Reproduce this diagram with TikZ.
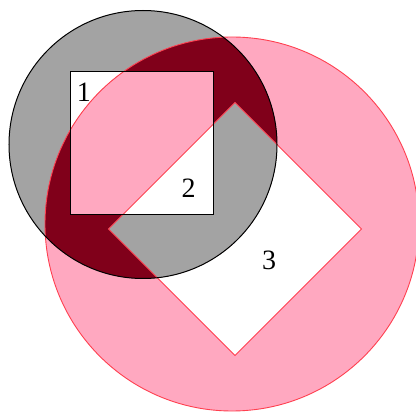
\documentclass[tikz,border=0pt]{standalone}
\usepackage{fontspec}
\setmainfont{Liberation Serif}
\definecolor{pinkfill}{HTML}{FFA8C0}
\definecolor{grayfill}{HTML}{A3A3A3}
\definecolor{darkfill}{HTML}{80001A}
\definecolor{redline}{HTML}{FF4050}
\tikzset{
  lbl/.style={font=\fontsize{28}{30}\selectfont, anchor=base, inner sep=0pt},
  redout/.style={draw=redline, line width=0.9pt},
  blackout/.style={draw=black, line width=1pt}
}
\newcommand{\graycirc}{(143,144.5) circle[radius=134]}
\newcommand{\pinkcirc}{(232,224) circle[radius=187]}
\newcommand{\sqpath}{(70,72) rectangle (213,215)}
\newcommand{\dmpath}{(235,102.5) -- (361.5,229) -- (235,355.5) -- (108.5,229) -- cycle}
\begin{document}
\begin{tikzpicture}[x=1pt,y=-1pt]
\useasboundingbox (0,0) rectangle (416,412);
\fill[white] (0,0) rectangle (416,412);
% pink path with diamond hole
\fill[pinkfill, even odd rule] \pinkcirc \dmpath;
% gray path with square hole
\fill[grayfill, even odd rule] \graycirc \sqpath;
% overlap
\begin{scope}
  \clip \pinkcirc;
  \clip \graycirc;
  \fill[darkfill] (0,0) rectangle (416,412);
  \fill[pinkfill] \sqpath;
  \fill[grayfill] \dmpath;
  \clip \dmpath;
  \fill[white] \sqpath;
\end{scope}
% outlines
\path[redout] \pinkcirc;
\path[redout] \dmpath;
\path[blackout] \graycirc;
\path[blackout] \sqpath;
% labels
\node[lbl] (l1) at (84,101.5) {1};
\node[lbl] (l2) at (188.5,198) {2};
\node[lbl] (l3) at (269,269.5) {3};
\end{tikzpicture}
\end{document}
